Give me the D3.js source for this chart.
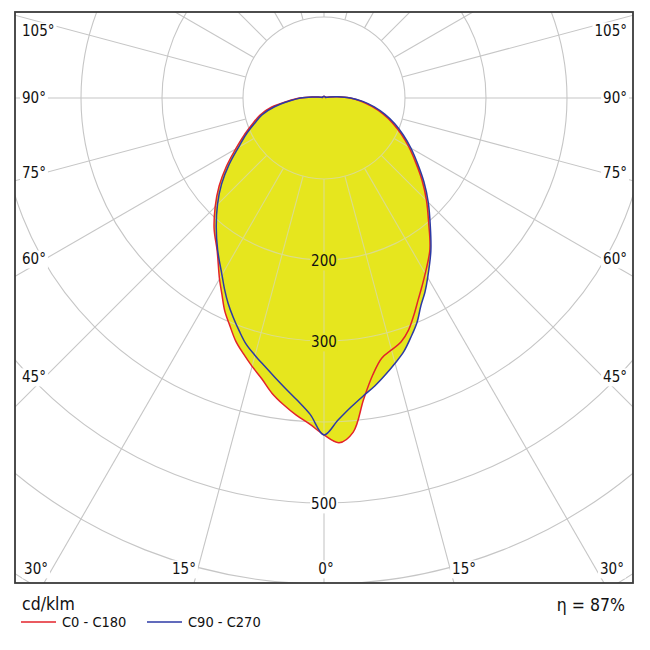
<!DOCTYPE html>
<html><head><meta charset="utf-8">
<script src="https://cdn.jsdelivr.net/npm/d3@7"></script>
<style>
body{margin:0;background:#fff}
svg text{font-family:"DejaVu Sans Condensed","DejaVu Sans",sans-serif;fill:#111}
</style>
</head><body>
<svg id="c" width="650" height="650"></svg>
<script>
// ---- data (cd/klm) ----
const gammas = [0,2.5,5,7.5,10,12.5,15,17.5,20,22.5,25,27.5,30,
  35,40,45,50,55,60,65,70,75,80,85,90,95,100,
  105,110,115,120,125,130,135,140,145,150,155,160,165,170,175,180];
const c0   = [416,426,414,375,347,329,322,316,305,290,275,262,250,
  228,201,179,158,138,121,105,90,75,60,46,32,16,7, 3,2,2,2,2,2,2,2,2,2,2,2,2,2,2,2];
const c180 = [416,403,393,382,370,355,343,331,319,304,290,273,258,
  230,211,190,169,147,126,109,94,82,66,45,30,15,7, 3,2,2,2,2,2,2,2,2,2,2,2,2,2,2,2];
const c90  = [416,398,383,371,361,350,339,328,314,300,283,270,256,
  230,204,182,161,141,124,108,93,78,63,48,33,17,7, 3,2,2,2,2,2,2,2,2,2,2,2,2,2,2,2];
const c270 = [416,391,375,362,350,339,329,319,306,293,280,266,252,
  229,207,186,165,143,122,106,91,79,62,43,29,14,7, 3,2,2,2,2,2,2,2,2,2,2,2,2,2,2,2];
const ringValues = [100,200,300,400,500,600,700,800];
const ringLabels = [200,300,500];
const angleLabels = [0,15,30,45,60,75,90,105];
const gridAngles = d3.range(0,360,15);
const legendNames = ["C0 - C180","C90 - C270"];
const unitLabel = "cd/klm";
const effLabel = "\u03b7 = 87%";

// ---- layout ----
const svg = d3.select("#c");
const frame = {x0:15, y0:12, x1:633, y1:583};
const cx = 324, cy = 98;
const rS = d3.scaleLinear().domain([0,100]).range([0,81]);
const colors = {red:"#e3232b", blue:"#2c3aa6", fill:"#e6e61e", grid:"#c6c6c6", gridOver:"#dadc8c"};
const rad = d => d*Math.PI/180;

svg.append("rect").attr("width",650).attr("height",650).attr("fill","#fff");
const defs = svg.append("defs");
defs.append("clipPath").attr("id","frameClip").append("rect")
  .attr("x",frame.x0).attr("y",frame.y0).attr("width",frame.x1-frame.x0).attr("height",frame.y1-frame.y0);

function plane(right,left){
  const pts = gammas.map((g,i)=>({a:Math.PI-rad(g), v:right[i]}));
  for(let i=gammas.length-2;i>=1;i--) pts.push({a:Math.PI+rad(gammas[i]), v:left[i]});
  return pts;
}
const planes = [
  {name:legendNames[0], pts:plane(c0,c180), color:colors.red},
  {name:legendNames[1], pts:plane(c90,c270), color:colors.blue}
];
const lineGen = d3.lineRadial().angle(d=>d.a).radius(d=>rS(d.v))
  .curve(d3.curveCatmullRomClosed.alpha(0.5));

const fillClip = defs.append("clipPath").attr("id","fillClip");
planes.forEach(p=>fillClip.append("path").attr("d",lineGen(p.pts)).attr("transform",`translate(${cx},${cy})`));

function drawGrid(g, color){
  g.selectAll("circle").data(ringValues).join("circle")
    .attr("cx",cx).attr("cy",cy).attr("r",d=>rS(d))
    .attr("fill","none").attr("stroke",color).attr("stroke-width",1.1);
  g.selectAll("line").data(gridAngles).join("line")
    .attr("x1",d=>cx+rS(100)*Math.sin(rad(d))).attr("y1",d=>cy-rS(100)*Math.cos(rad(d)))
    .attr("x2",d=>cx+rS(1000)*Math.sin(rad(d))).attr("y2",d=>cy-rS(1000)*Math.cos(rad(d)))
    .attr("stroke",color).attr("stroke-width",1.1);
}
const plot = svg.append("g").attr("clip-path","url(#frameClip)");
drawGrid(plot.append("g"), colors.grid);

const fillG = plot.append("g").attr("transform",`translate(${cx},${cy})`);
planes.forEach(p=>fillG.append("path").attr("d",lineGen(p.pts)).attr("fill",colors.fill).attr("stroke","none"));
drawGrid(plot.append("g").attr("clip-path","url(#fillClip)"), colors.gridOver);

// ring labels
const inside = v => v < c0[0];
ringLabels.forEach(v=>{
  const g = plot.append("g");
  const t = g.append("text").attr("x",cx).attr("y",cy+rS(v)+1).attr("dy","0.36em")
    .attr("text-anchor","middle").attr("font-size",15).text(v);
  const b = t.node().getBBox();
  g.insert("rect","text").attr("x",b.x-1).attr("y",b.y).attr("width",b.width+2).attr("height",b.height)
    .attr("fill", inside(v)?colors.fill:"#fff");
});

// curves
const curveG = plot.append("g").attr("transform",`translate(${cx},${cy})`);
planes.forEach(p=>curveG.append("path").attr("d",lineGen(p.pts))
  .attr("fill","none").attr("stroke",p.color).attr("stroke-width",1.5).attr("stroke-linejoin","round"));

// angle labels
angleLabels.forEach(g=>{
  [-1,1].forEach(side=>{
    let x,y,anchor;
    if(g===0){ if(side===1) return; x=cx+2; y=569; anchor="middle"; }
    else if(g<=32){ x=cx+side*(576-cy)*Math.tan(rad(g)); y=569; anchor= side<0?"end":"start"; }
    else { y=Math.max(31, cy+279/Math.tan(rad(g))); x= side<0?22:627; anchor= side<0?"start":"end"; }
    const gg = plot.append("g");
    const t = gg.append("text").attr("x",x).attr("y",y).attr("dy","0.36em")
      .attr("text-anchor",anchor).attr("font-size",15).text(g+"\u00b0");
    const b = t.node().getBBox();
    gg.insert("rect","text").attr("x",b.x-2).attr("y",b.y).attr("width",b.width+4).attr("height",b.height).attr("fill","#fff");
  });
});

// frame
svg.append("rect").attr("x",frame.x0).attr("y",frame.y0).attr("width",frame.x1-frame.x0).attr("height",frame.y1-frame.y0)
  .attr("fill","none").attr("stroke","#3a3a3a").attr("stroke-width",1.8);

// legend
svg.append("text").attr("x",22).attr("y",610).attr("font-size",17.5).text(unitLabel);
svg.append("text").attr("x",625).attr("y",611).attr("text-anchor","end").attr("font-size",17.5).text(effLabel);
const legX = [21,147];
planes.forEach((p,i)=>{
  svg.append("line").attr("x1",legX[i]).attr("x2",legX[i]+35).attr("y1",622).attr("y2",622)
    .attr("stroke",p.color).attr("stroke-width",1.6);
  svg.append("text").attr("x",legX[i]+41).attr("y",627).attr("font-size",14.5).text(p.name);
});
</script>
</body></html>
